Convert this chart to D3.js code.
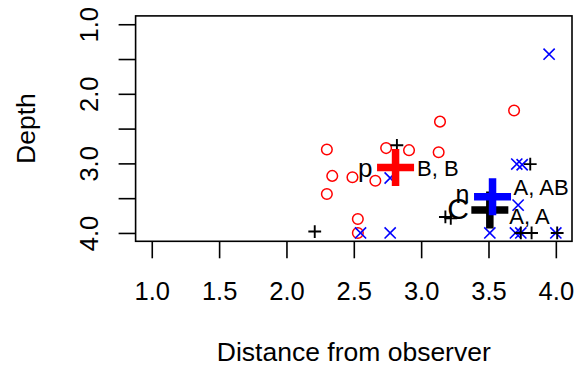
<!DOCTYPE html>
<html>
<head>
<meta charset="utf-8">
<script src="https://cdn.jsdelivr.net/npm/d3@7"></script>
<style>
body { margin: 0; background: #fff; }
svg { display: block; }
text { font-family: "Liberation Sans", Arial, Helvetica, sans-serif; }
</style>
</head>
<body>
<svg width="575" height="368"></svg>
<script>
// observations per group (distance, depth)
var pX = [3.69, 3.14, 2.30, 2.74, 2.91, 3.13, 2.34, 2.49, 2.66, 2.30, 2.53, 2.53];
var pY = [2.24, 2.40, 2.80, 2.78, 2.81, 2.84, 3.18, 3.20, 3.25, 3.44, 3.80, 4.00];
var nX = [3.95, 2.77, 3.71, 3.75, 3.72, 2.55, 2.77, 3.51, 3.70, 3.74, 4.00];
var nY = [1.43, 3.21, 3.01, 3.02, 3.60, 4.00, 4.00, 4.00, 4.00, 4.00, 4.00];
var cX = [2.82, 3.81, 3.18, 3.22, 2.21, 3.74, 3.82, 4.01];
var cY = [2.74, 3.01, 3.77, 3.79, 3.98, 4.00, 4.00, 4.00];

// group means and letters
var groups = ["C", "p", "n"];
var meanX = [3.51, 2.81, 3.53];
var meanY = [3.67, 3.06, 3.48];
var letters = ["A, A", "B, B", "A, AB"];

var xTicks = [1, 1.5, 2, 2.5, 3, 3.5, 4];
var yTicks = [1, 1.5, 2, 2.5, 3, 3.5, 4];

var svg = d3.select("svg"),
	margin = {top: 15.9, right: 3, bottom: 126.7, left: 135.6},
	width = 575 - margin.left - margin.right,
	height = 368 - margin.top - margin.bottom,
	g = svg.append("g").attr("transform", "translate(" + margin.left + "," + margin.top + ")");

var x = d3.scaleLinear().domain([0.88, 4.12]).range([0, width]);
var y = d3.scaleLinear().domain([0.88, 4.12]).range([0, height]);

var colors = {p: "#ff0000", n: "#0000ff", C: "#000000"};

// x axis
var xa = g.append("g")
	.attr("transform", "translate(0," + height + ")")
	.call(d3.axisBottom(x).tickValues(xTicks).tickSize(17).tickFormat(d3.format(".1f")));
xa.select(".domain").remove();
xa.selectAll("line").attr("stroke", "#000").attr("stroke-width", 1.6);
xa.selectAll("text")
	.attr("y", 58.5).attr("dy", 0)
	.attr("fill", "#000")
	.style("font-size", "25.5px");

// y axis
var ya = g.append("g")
	.call(d3.axisLeft(y).tickValues(yTicks).tickSize(17)
		.tickFormat(function(d) { return d % 1 === 0 ? d.toFixed(1) : ""; }));
ya.select(".domain").remove();
ya.selectAll("line").attr("stroke", "#000").attr("stroke-width", 1.6);
ya.selectAll("text")
	.attr("x", null).attr("dy", 0)
	.attr("transform", "translate(-37.5,0) rotate(-90)")
	.attr("text-anchor", "middle")
	.attr("fill", "#000")
	.style("font-size", "25.5px");

// box
g.append("rect")
	.attr("width", width).attr("height", height)
	.attr("fill", "none").attr("stroke", "#000").attr("stroke-width", 1.6);

// axis titles
svg.append("text")
	.attr("x", margin.left + width / 2).attr("y", 361)
	.attr("text-anchor", "middle")
	.style("font-size", "26.5px")
	.text("Distance from observer");
svg.append("text")
	.attr("transform", "translate(35," + (margin.top + height / 2) + ") rotate(-90)")
	.attr("text-anchor", "middle")
	.style("font-size", "26.5px")
	.text("Depth");

// points
var pts = g.append("g");
pts.selectAll("circle")
	.data(d3.zip(pX, pY))
	.enter().append("circle")
		.attr("cx", function(d) { return x(d[0]); })
		.attr("cy", function(d) { return y(d[1]); })
		.attr("r", 5.3)
		.attr("fill", "none")
		.attr("stroke", colors.p)
		.attr("stroke-width", 1.5);

var xs = 5.6;
pts.selectAll("path.n")
	.data(d3.zip(nX, nY))
	.enter().append("path")
		.attr("class", "n")
		.attr("d", function(d) {
			var cx = x(d[0]), cy = y(d[1]);
			return "M" + (cx - xs) + "," + (cy - xs) + "L" + (cx + xs) + "," + (cy + xs) +
				"M" + (cx - xs) + "," + (cy + xs) + "L" + (cx + xs) + "," + (cy - xs);
		})
		.attr("stroke", colors.n)
		.attr("stroke-width", 1.6);

var ps = 6.4;
pts.selectAll("path.c")
	.data(d3.zip(cX, cY))
	.enter().append("path")
		.attr("class", "c")
		.attr("d", function(d) {
			var cx = x(d[0]), cy = y(d[1]);
			return "M" + (cx - ps) + "," + cy + "L" + (cx + ps) + "," + cy +
				"M" + cx + "," + (cy - ps) + "L" + cx + "," + (cy + ps);
		})
		.attr("stroke", colors.C)
		.attr("stroke-width", 1.9);

// means: big crosses
var ms = 18.5;
var means = groups.map(function(k, i) { return {k: k, x: meanX[i], y: meanY[i], lab: letters[i]}; });
g.append("g").selectAll("path")
	.data(means)
	.enter().append("path")
		.attr("d", function(d) {
			var cx = x(d.x), cy = y(d.y);
			return "M" + (cx - ms) + "," + cy + "L" + (cx + ms) + "," + cy +
				"M" + cx + "," + (cy - ms) + "L" + cx + "," + (cy + ms);
		})
		.attr("stroke", function(d) { return colors[d.k]; })
		.attr("stroke-width", 7.5);

// label offsets (group name left, letters right)
var nameOff = {p: [-23, 9, 26], n: [-23, 6.6, 25], C: [-21, 9.3, 30]};
var letOff = {p: [21.5, 8, 22], n: [21, -1.7, 22], C: [19.5, 14.3, 22]};

var labs = g.append("g");
labs.selectAll("text.name")
	.data(means)
	.enter().append("text")
		.attr("class", "name")
		.attr("x", function(d) { return x(d.x) + nameOff[d.k][0]; })
		.attr("y", function(d) { return y(d.y) + nameOff[d.k][1]; })
		.attr("text-anchor", "end")
		.style("font-size", function(d) { return nameOff[d.k][2] + "px"; })
		.text(function(d) { return d.k; });
labs.selectAll("text.let")
	.data(means)
	.enter().append("text")
		.attr("class", "let")
		.attr("x", function(d) { return x(d.x) + letOff[d.k][0]; })
		.attr("y", function(d) { return y(d.y) + letOff[d.k][1]; })
		.style("font-size", function(d) { return letOff[d.k][2] + "px"; })
		.text(function(d) { return d.lab; });
</script>
</body>
</html>
